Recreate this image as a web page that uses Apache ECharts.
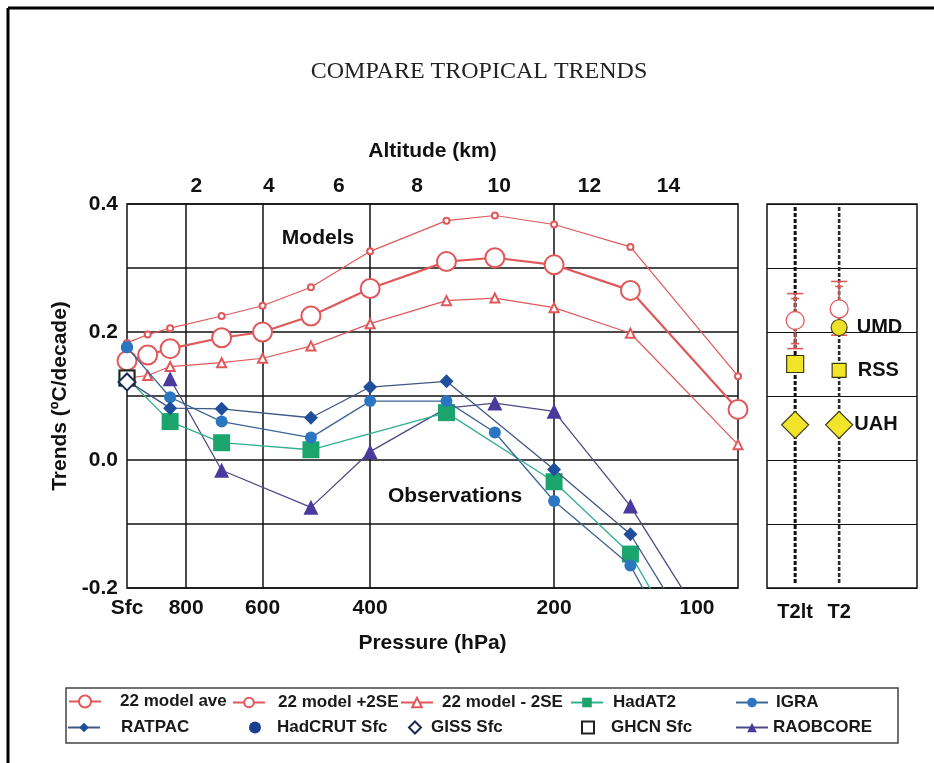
<!DOCTYPE html>
<html><head><meta charset="utf-8">
<script src="https://cdn.jsdelivr.net/npm/echarts@6/dist/echarts.min.js"></script>
<style>html,body{margin:0;padding:0;background:#fff}#c{width:934px;height:763px}</style>
</head><body><div id="c"></div>
<script>
// ---- data ----
const modelPressure = [1000, 925, 850, 700, 600, 500, 400, 300, 250, 200, 150, 100];
const modelAve      = [0.155, 0.164, 0.174, 0.191, 0.200, 0.225, 0.268, 0.310, 0.316, 0.305, 0.265, 0.079];
const modelPlus2SE  = [0.183, 0.196, 0.206, 0.225, 0.241, 0.270, 0.326, 0.374, 0.382, 0.368, 0.333, 0.131];
const modelMinus2SE = [0.128, 0.132, 0.146, 0.152, 0.159, 0.178, 0.213, 0.249, 0.253, 0.238, 0.198, 0.024];

const hadat2Pressure = [1000, 850, 700, 500, 300, 200, 150, 100];
const hadat2Values   = [0.128, 0.060, 0.027, 0.016, 0.074, -0.034, -0.147, -0.44];

const igraPressure = [1000, 850, 700, 500, 400, 300, 250, 200, 150, 100];
const igraValues   = [0.176, 0.098, 0.060, 0.035, 0.092, 0.092, 0.043, -0.064, -0.165, -0.47];

const ratpacPressure = [1000, 850, 700, 500, 400, 300, 200, 150, 100];
const ratpacValues   = [0.124, 0.081, 0.080, 0.066, 0.114, 0.123, -0.015, -0.116, -0.39];

const raobcorePressure = [850, 700, 500, 400, 300, 250, 200, 150, 100];
const raobcoreValues   = [0.127, -0.016, -0.074, 0.013, 0.081, 0.089, 0.076, -0.072, -0.34];

const sfcPressure = 1000;
const hadcrutSfc = 0.176;
const gissSfc = 0.122;
const ghcnSfc = 0.128;

const pressureTicks = [800, 600, 400, 200];
const pressureLabels = [1000, 800, 600, 400, 200, 100];
const altitudeKm = [2, 4, 6, 8, 10, 12, 14];
const altitudePressure = [770, 586, 450, 335, 246, 175, 130];

const yTicks = [-0.2, 0.4, 0.1];

const satChannels = ['T2lt', 'T2'];
const modelSat     = [0.218, 0.236];
const modelSatLow  = [0.174, 0.195];
const modelSatHigh = [0.260, 0.279];
const umdSat = [null, 0.207];
const rssSat = [0.150, 0.140];
const uahSat = [0.055, 0.055];

// ---- chart ----
const FONT = 'Liberation Sans, Arial, Helvetica, sans-serif';
const RED = '#e0585a';
const lg10 = Math.log10;
const pts = (pres, vals) => pres.map((p, i) => [lg10(p), vals[i]]);
const satPts = vals => vals.map((v, i) => [i, v]);

const bold = (size) => ({ fontFamily: FONT, fontWeight: 'bold', fontSize: size, color: '#111' });

function lg(name, left, top, pad, w, h) {
  return {
    data: [name], left: left, top: top, padding: 0, itemWidth: w || 32, itemHeight: h || 12,
    selectedMode: false,
    textStyle: { fontFamily: FONT, fontSize: 17, fontWeight: 'bold', color: '#1a1a1a', padding: [0, 0, 0, pad] }
  };
}

const chart = echarts.init(document.getElementById('c'), null, { renderer: 'canvas' });

const option = {
  backgroundColor: '#fff',
  animation: false,
  graphic: [
    { type: 'line', shape: { x1: 8, y1: 8, x2: 934, y2: 8 }, style: { stroke: '#000', lineWidth: 3 } },
    { type: 'line', shape: { x1: 8, y1: 8, x2: 8, y2: 763 }, style: { stroke: '#000', lineWidth: 3 } },
    { type: 'text', x: 479, y: 72, style: { text: 'COMPARE TROPICAL TRENDS', font: '24px "Liberation Serif", "Times New Roman", serif', fill: '#222', align: 'center', verticalAlign: 'middle' } },
    { type: 'text', x: 318, y: 238, z: 10, style: { text: 'Models', font: 'bold 21px ' + FONT, fill: '#111', align: 'center', verticalAlign: 'middle' } },
    { type: 'text', x: 455, y: 496, z: 10, style: { text: 'Observations', font: 'bold 21px ' + FONT, fill: '#111', align: 'center', verticalAlign: 'middle' } },
    { type: 'rect', shape: { x: 66, y: 688, width: 832, height: 55 }, style: { fill: 'none', stroke: '#444', lineWidth: 1.5 } }
  ],
  legend: [
    lg('22 model ave', 68, 693, 14, 32, 15),
    lg('22 model +2SE', 232, 694, 8),
    lg('22 model - 2SE', 400, 694, 4),
    lg('HadAT2', 570, 694, 5),
    lg('IGRA', 735, 694, 3),
    lg('RATPAC', 67, 719, 16),
    lg('HadCRUT Sfc', 249, 719, 11, 12, 12),
    lg('GISS Sfc', 408, 719, 5, 12, 12),
    lg('GHCN Sfc', 581, 719, 12, 12, 12),
    lg('RAOBCORE', 735, 719, 0)
  ],
  grid: [
    { left: 127, right: 196, top: 204, bottom: 175, show: true, borderColor: '#111', borderWidth: 1.5, backgroundColor: '#fff' },
    { left: 767, right: 17, top: 204, bottom: 175, show: true, borderColor: '#111', borderWidth: 1.5, backgroundColor: '#fff' }
  ],
  xAxis: [
    {
      gridIndex: 0, type: 'value', position: 'bottom', inverse: true,
      min: lg10(pressureLabels[pressureLabels.length - 1]), max: lg10(pressureLabels[0]),
      name: 'Pressure (hPa)', nameLocation: 'middle', nameGap: 45, nameTextStyle: bold(21),
      axisLine: { show: false },
      axisTick: { show: false, customValues: pressureTicks.map(lg10) },
      splitLine: { show: true, lineStyle: { color: '#111', width: 1.5 } },
      axisLabel: {
        customValues: pressureLabels.map(lg10), margin: 10, ...bold(21),
        formatter: v => {
          const p = Math.round(Math.pow(10, v));
          if (p === 1000) return 'Sfc';
          if (p === 100) return '{s|100}';
          return String(p);
        },
        rich: { s: { padding: [0, 82, 0, 0], fontFamily: FONT, fontWeight: 'bold', fontSize: 21, color: '#111' } }
      }
    },
    {
      gridIndex: 0, type: 'value', position: 'top', inverse: true,
      min: lg10(pressureLabels[pressureLabels.length - 1]), max: lg10(pressureLabels[0]),
      name: 'Altitude (km)', nameLocation: 'middle', nameGap: 42, nameTextStyle: bold(21),
      axisLine: { show: false }, axisTick: { show: false }, splitLine: { show: false },
      axisLabel: {
        customValues: altitudePressure.map(lg10), margin: 7, ...bold(21),
        formatter: v => {
          const i = altitudePressure.findIndex(p => Math.abs(lg10(p) - v) < 1e-6);
          return i >= 0 ? String(altitudeKm[i]) : '';
        }
      }
    },
    {
      gridIndex: 1, type: 'value', min: -0.64, max: 2.77,
      axisLine: { show: false }, axisTick: { show: false }, splitLine: { show: false },
      axisLabel: {
        customValues: satChannels.map((c, i) => i), margin: 14, ...bold(20),
        formatter: v => satChannels[Math.round(v)] || ''
      }
    }
  ],
  yAxis: [
    {
      gridIndex: 0, type: 'value', min: yTicks[0], max: yTicks[1], interval: yTicks[2],
      name: 'Trends (ºC/decade)', nameLocation: 'middle', nameGap: 53, nameRotate: 90, nameTextStyle: bold(21),
      axisLine: { show: false }, axisTick: { show: false },
      splitLine: { show: true, lineStyle: { color: '#111', width: 1.5 } },
      axisLabel: {
        margin: 9, ...bold(21),
        formatter: v => (Math.round(v * 10) % 2 === 0 ? v.toFixed(1) : '')
      }
    },
    {
      gridIndex: 1, type: 'value', min: yTicks[0], max: yTicks[1], interval: yTicks[2],
      axisLine: { show: false }, axisTick: { show: false }, axisLabel: { show: false },
      splitLine: { show: true, lineStyle: { color: '#111', width: 1.2 } }
    }
  ],
  series: [
    { name: '22 model +2SE', type: 'line', xAxisIndex: 0, yAxisIndex: 0, data: pts(modelPressure, modelPlus2SE),
      symbol: 'emptyCircle', symbolSize: 6, itemStyle: { color: RED, borderWidth: 1 }, lineStyle: { color: RED, width: 1.2 }, z: 2 },
    { name: '22 model - 2SE', type: 'line', xAxisIndex: 0, yAxisIndex: 0, data: pts(modelPressure, modelMinus2SE),
      symbol: 'emptyTriangle', symbolSize: 9, itemStyle: { color: RED, borderWidth: 1 }, lineStyle: { color: RED, width: 1.2 }, z: 2 },
    { name: '22 model ave', type: 'line', xAxisIndex: 0, yAxisIndex: 0, data: pts(modelPressure, modelAve),
      symbol: 'emptyCircle', symbolSize: 19, itemStyle: { color: RED, borderWidth: 1.3 }, lineStyle: { color: RED, width: 2.2 }, z: 3 },

    { name: 'RAOBCORE', type: 'line', xAxisIndex: 0, yAxisIndex: 0, data: pts(raobcorePressure, raobcoreValues),
      symbol: 'triangle', symbolSize: 15, itemStyle: { color: '#4a3a9e' }, lineStyle: { color: '#4b4a86', width: 1.3 }, z: 4 },
    { name: 'HadAT2', type: 'line', xAxisIndex: 0, yAxisIndex: 0, data: pts(hadat2Pressure, hadat2Values),
      symbol: 'rect', symbolSize: 17, itemStyle: { color: '#1ba56c' }, lineStyle: { color: '#2fb08f', width: 1.3 }, z: 5 },
    { name: 'IGRA', type: 'line', xAxisIndex: 0, yAxisIndex: 0, data: pts(igraPressure, igraValues),
      symbol: 'circle', symbolSize: 12, itemStyle: { color: '#2b76c2' }, lineStyle: { color: '#3d6496', width: 1.3 }, z: 6 },
    { name: 'RATPAC', type: 'line', xAxisIndex: 0, yAxisIndex: 0, data: pts(ratpacPressure, ratpacValues),
      symbol: 'diamond', symbolSize: 14, itemStyle: { color: '#1f4f9c' }, lineStyle: { color: '#3f5784', width: 1.3 }, z: 7 },
    { name: 'HadCRUT Sfc', type: 'scatter', xAxisIndex: 0, yAxisIndex: 0, data: [[lg10(sfcPressure), hadcrutSfc]],
      symbol: 'circle', symbolSize: 12, itemStyle: { color: '#1d3f8f', opacity: 1 }, z: 5 },
    { name: 'GHCN Sfc', type: 'scatter', xAxisIndex: 0, yAxisIndex: 0, data: [[lg10(sfcPressure), ghcnSfc]],
      symbol: 'emptyRect', symbolSize: 15, itemStyle: { color: '#222', borderWidth: 1.5, opacity: 1 }, z: 8 },
    { name: 'GISS Sfc', type: 'scatter', xAxisIndex: 0, yAxisIndex: 0, data: [[lg10(sfcPressure), gissSfc]],
      symbol: 'emptyDiamond', symbolSize: 17, itemStyle: { color: '#1a2a55', borderWidth: 1.5, opacity: 1 }, z: 9 },

    // right panel: channel dashed lines + model error bars
    { name: 'channels', type: 'custom', xAxisIndex: 2, yAxisIndex: 1, coordinateSystem: 'cartesian2d',
      data: satChannels.map((c, i) => [i, modelSatLow[i], modelSatHigh[i]]),
      encode: { x: 0, y: [1, 2] }, z: 3, silent: true, clip: false,
      renderItem: (params, api) => {
        const x = api.value(0);
        const top = api.coord([x, yTicks[1]]);
        const bot = api.coord([x, yTicks[0]]);
        const hi = api.coord([x, api.value(2)]);
        const lo = api.coord([x, api.value(1)]);
        const st = { stroke: RED, lineWidth: 1.6 };
        const w = 8;
        return { type: 'group', children: [
          { type: 'line', shape: { x1: top[0], y1: top[1] + 3, x2: bot[0], y2: bot[1] - 3 },
            style: { stroke: params.dataIndex === 0 ? '#111' : '#2a2a2a', lineWidth: params.dataIndex === 0 ? 3 : 2.6, lineDash: [4, 2] } },
          { type: 'line', shape: { x1: hi[0], y1: hi[1], x2: lo[0], y2: lo[1] }, style: st },
          { type: 'line', shape: { x1: hi[0] - w, y1: hi[1], x2: hi[0] + w, y2: hi[1] }, style: st },
          { type: 'line', shape: { x1: lo[0] - w, y1: lo[1], x2: lo[0] + w, y2: lo[1] }, style: st },
          { type: 'line', shape: { x1: hi[0] - 4, y1: hi[1] + 5, x2: hi[0] + 4, y2: hi[1] + 5 }, style: st },
          { type: 'line', shape: { x1: lo[0] - 4, y1: lo[1] - 5, x2: lo[0] + 4, y2: lo[1] - 5 }, style: st }
        ] };
      }
    },
    { name: 'model channels', type: 'scatter', xAxisIndex: 2, yAxisIndex: 1, data: satPts(modelSat),
      symbol: 'circle', symbolSize: 18, itemStyle: { color: '#fff', borderColor: RED, borderWidth: 1.3, opacity: 1 }, z: 4 },
    { name: 'UMD', type: 'scatter', xAxisIndex: 2, yAxisIndex: 1, data: satPts(umdSat),
      symbol: 'circle', symbolSize: 16, itemStyle: { color: '#ece128', borderColor: '#4a4a1a', borderWidth: 1.2, opacity: 1 }, z: 5,
      label: { show: true, position: 'right', distance: 9, ...bold(20), formatter: p => p.seriesName } },
    { name: 'RSS', type: 'scatter', xAxisIndex: 2, yAxisIndex: 1, data: satPts(rssSat),
      symbol: 'rect', symbolSize: (v, p) => (p.dataIndex === 0 ? 17 : 14),
      itemStyle: { color: '#f2e42a', borderColor: '#3a3a12', borderWidth: 1.2, opacity: 1 }, z: 5,
      label: { show: true, position: 'right', distance: 11, ...bold(20), formatter: p => (p.dataIndex === 1 ? p.seriesName : '') } },
    { name: 'UAH', type: 'scatter', xAxisIndex: 2, yAxisIndex: 1, data: satPts(uahSat),
      symbol: 'diamond', symbolSize: 27, itemStyle: { color: '#f2e42a', borderColor: '#3a3a12', borderWidth: 1.2, opacity: 1 }, z: 5,
      label: { show: true, position: 'right', distance: 1, ...bold(20), formatter: p => (p.dataIndex === 1 ? p.seriesName : '') } }
  ]
};
chart.setOption(option);
</script></body></html>
